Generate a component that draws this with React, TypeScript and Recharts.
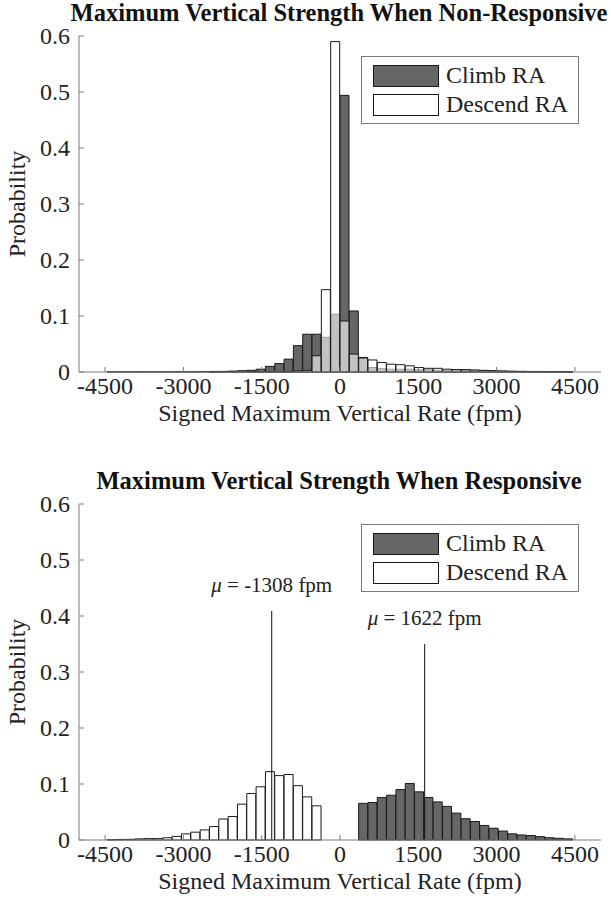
import React from 'react';
import { ComposedChart, Bar, XAxis, YAxis, ReferenceLine, Legend } from 'recharts';

// histogram bins: 56 bins of 10000/56 fpm between -5000 and 5000 (centres)
const binCenters = [
  -4911, -4732, -4554, -4375, -4196, -4018, -3839, -3661, -3482, -3304,
  -3125, -2946, -2768, -2589, -2411, -2232, -2054, -1875, -1696, -1518,
  -1339, -1161, -982, -804, -625, -446, -268, -89, 89, 268,
  446, 625, 804, 982, 1161, 1339, 1518, 1696, 1875, 2054,
  2232, 2411, 2589, 2768, 2946, 3125, 3304, 3482, 3661, 3839,
  4018, 4196, 4375, 4554, 4732, 4911,
];

const nonRespClimb = [
  0, 0, 0, 0.0002, 0.0002, 0.0002, 0.0002, 0.0002, 0.0003, 0.0003,
  0.0005, 0.0005, 0.0005, 0.0008, 0.001, 0.001, 0.0015, 0.002, 0.003, 0.005,
  0.01, 0.015, 0.023, 0.047, 0.0675, 0.0675, 0.062, 0.103, 0.494, 0.109,
  0.026, 0.008, 0.006, 0.005, 0.005, 0.005, 0.004, 0.004, 0.003, 0.003,
  0.003, 0.004, 0.003, 0.002, 0.0015, 0.001, 0.001, 0.0008, 0.0008, 0.0006,
  0.0006, 0.0005, 0.0003, 0, 0, 0,
];

const nonRespDescend = [
  0, 0, 0, 0, 0, 0, 0, 0, 0, 0,
  0, 0, 0, 0, 0.0005, 0.001, 0.001, 0.002, 0.001, 0.001,
  0.001, 0.001, 0.001, 0.002, 0.003, 0.029, 0.147, 0.59, 0.091, 0.032,
  0.025, 0.0215, 0.017, 0.014, 0.013, 0.011, 0.008, 0.0066, 0.0066, 0.005,
  0.0045, 0.004, 0.0035, 0.003, 0.0025, 0.002, 0.0015, 0.0012, 0.001, 0.001,
  0.0008, 0.0006, 0.0004, 0, 0, 0,
];

const respClimb = [
  0, 0, 0, 0, 0, 0, 0, 0, 0, 0,
  0, 0, 0, 0, 0, 0, 0, 0, 0, 0,
  0, 0, 0, 0, 0, 0, 0, 0, 0, 0,
  0.0655, 0.067, 0.076, 0.08, 0.09, 0.101, 0.086, 0.076, 0.068, 0.06,
  0.048, 0.038, 0.033, 0.026, 0.021, 0.016, 0.011, 0.009, 0.008, 0.006,
  0.004, 0.003, 0.002, 0, 0, 0,
];

const respDescend = [
  0, 0, 0, 0.0006, 0.001, 0.0012, 0.002, 0.0025, 0.0025, 0.004,
  0.0065, 0.011, 0.014, 0.018, 0.024, 0.0375, 0.042, 0.064, 0.083, 0.095,
  0.122, 0.115, 0.117, 0.097, 0.077, 0.061, 0, 0, 0, 0,
  0, 0, 0, 0, 0, 0, 0, 0, 0, 0,
  0, 0, 0, 0, 0, 0, 0, 0, 0, 0,
  0, 0, 0, 0, 0, 0,
];

const xTicks = [-4500, -3000, -1500, 0, 1500, 3000, 4500];
const yTicks = [0, 0.1, 0.2, 0.3, 0.4, 0.5, 0.6];

// mean vertical rate (fpm) and height of the marker line
const respMeans = [
  { mean: -1308, top: 0.409 },
  { mean: 1622, top: 0.35 },
];

const FONT = '"Liberation Serif", "Times New Roman", serif';
const AXIS = '#7a7a7a';
const INK = '#222';
const CLIMB = '#666666';

const XTick = (props: any) => {
  const { x, y, payload } = props;
  return (
    <g>
      <line x1={x} x2={x} y1={y} y2={y - 5} stroke={AXIS} />
      <text x={x} y={y + 22} textAnchor="middle" fill={INK} style={{ fontFamily: FONT, fontSize: 24 }}>
        {payload.value}
      </text>
    </g>
  );
};

const YTick = (props: any) => {
  const { x, y, payload } = props;
  return (
    <g>
      <line x1={x} x2={x + 5} y1={y} y2={y} stroke={AXIS} />
      <text x={x - 9} y={y + 8} textAnchor="end" fill={INK} style={{ fontFamily: FONT, fontSize: 24 }}>
        {payload.value}
      </text>
    </g>
  );
};

const XTitle = ({ viewBox }: any) => (
  <text x={viewBox.x + viewBox.width / 2} y={viewBox.y + 49} textAnchor="middle" fill={INK} style={{ fontFamily: FONT, fontSize: 24 }}>
    Signed Maximum Vertical Rate (fpm)
  </text>
);

const YTitle = ({ viewBox }: any) => {
  const x = viewBox.x - 53;
  const y = viewBox.y + viewBox.height / 2;
  return (
    <text x={x} y={y} transform={`rotate(-90, ${x}, ${y})`} textAnchor="middle" fill={INK} style={{ fontFamily: FONT, fontSize: 24 }}>
      Probability
    </text>
  );
};

const MeanLabel = ({ viewBox, mean }: any) => (
  <text x={viewBox.x + viewBox.width / 2} y={viewBox.y - 19} textAnchor="middle" fill={INK} style={{ fontFamily: FONT, fontSize: 21 }}>
    <tspan fontStyle="italic">μ</tspan> = {mean} fpm
  </text>
);

const LegendBox = ({ payload }: any) => (
  <div style={{ border: `1px solid ${AXIS}`, background: '#fff', padding: '4px 8px 4px 11px', fontFamily: FONT, fontSize: 24, color: INK }}>
    {(payload || []).map((entry: any) => (
      <div key={entry.value} style={{ display: 'flex', alignItems: 'center', height: 29 }}>
        <span style={{ width: 64, height: 20, background: entry.color, border: '1px solid #1a1a1a', marginRight: 7 }} />
        <span style={{ lineHeight: '29px' }}>{entry.value}</span>
      </div>
    ))}
  </div>
);

interface PanelProps {
  title: string;
  climb: number[];
  descend: number[];
  height: number;
  means?: { mean: number; top: number }[];
}

const Panel: React.FC<PanelProps> = ({ title, climb, descend, height, means = [] }) => {
  const data = binCenters.map((bin, i) => ({ bin, climb: climb[i], descend: descend[i] }));
  return (
    <div style={{ position: 'relative', width: 611, height }}>
      <div
        style={{
          position: 'absolute', top: 1, left: 39, width: 600, textAlign: 'center', whiteSpace: 'nowrap',
          fontFamily: FONT, fontWeight: 'bold', fontSize: 24.5, lineHeight: '24px', color: '#111', zIndex: 2,
        }}
      >
        {title}
      </div>
      <ComposedChart
        width={611}
        height={height}
        data={data}
        margin={{ top: 36, right: 10, bottom: height - 373, left: 78 }}
        barCategoryGap={0}
        barGap={0}
        style={{ fontFamily: FONT }}
      >
        <XAxis xAxisId="climb" dataKey="bin" type="category" orientation="top" height={0} hide />
        <XAxis xAxisId="descend" dataKey="bin" type="category" orientation="top" height={0} hide />
        <XAxis
          xAxisId="rate"
          dataKey="bin"
          type="number"
          domain={[-5000, 5000]}
          allowDataOverflow
          ticks={xTicks}
          height={1}
          tickSize={0}
          tickMargin={0}
          tickLine={false}
          stroke={AXIS}
          tick={<XTick />}
          label={<XTitle />}
        />
        <YAxis
          type="number"
          domain={[0, 0.6]}
          ticks={yTicks}
          width={1}
          tickSize={0}
          tickMargin={0}
          tickLine={false}
          stroke={AXIS}
          tick={<YTick />}
          label={<YTitle />}
        />
        <Legend
          layout="vertical"
          align="center"
          verticalAlign="middle"
          content={<LegendBox />}
          wrapperStyle={{ left: 361, top: 56, width: 218 }}
        />
        <Bar xAxisId="climb" dataKey="climb" name="Climb RA" fill={CLIMB} stroke="#1a1a1a" strokeWidth={1} isAnimationActive={false} />
        <Bar xAxisId="descend" dataKey="descend" name="Descend RA" fill="#ffffff" fillOpacity={0.6} stroke="#1a1a1a" strokeWidth={1} isAnimationActive={false} />
        {means.map((m) => (
          <ReferenceLine
            key={m.mean}
            xAxisId="rate"
            segment={[{ x: m.mean, y: 0 }, { x: m.mean, y: m.top }]}
            stroke="#111"
            strokeWidth={1}
            label={<MeanLabel mean={m.mean} />}
          />
        ))}
      </ComposedChart>
    </div>
  );
};

export default function App() {
  return (
    <div style={{ position: 'absolute', left: 0, top: 0, width: 611, height: 909, overflow: 'hidden', background: '#fff' }}>
      <Panel title="Maximum Vertical Strength When Non-Responsive" climb={nonRespClimb} descend={nonRespDescend} height={468} />
      <Panel title="Maximum Vertical Strength When Responsive" climb={respClimb} descend={respDescend} height={441} means={respMeans} />
    </div>
  );
}
